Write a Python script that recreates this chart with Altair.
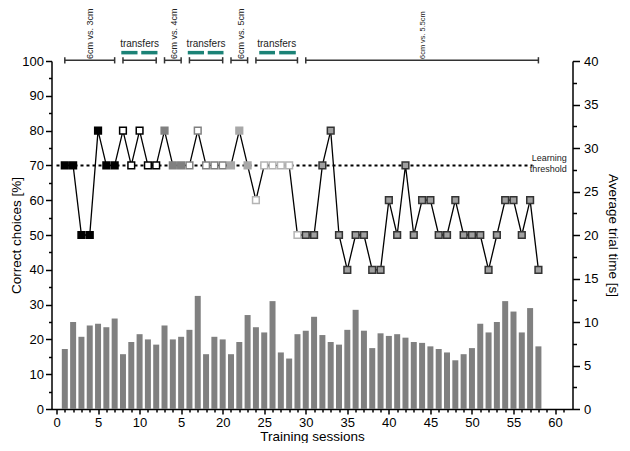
import altair as alt
import pandas as pd

# ---------------- data ----------------
sessions = list(range(1, 59))
correct = [70, 70, 50, 50, 80, 70, 70,
           80, 70, 80, 70, 70,
           80, 70, 70,
           70, 80, 70, 70, 70,
           70, 80, 70,
           60, 70, 70, 70, 70, 50,
           50, 50, 70, 80, 50, 40, 50, 50, 40, 40,
           60, 50, 70, 50, 60, 60, 50, 50, 60, 50,
           50, 50, 40, 50, 60, 60, 50, 60, 40]
trial_time = [6.9, 10.0, 8.3, 9.6, 9.8, 9.4, 10.4, 6.3, 7.7, 8.6,
              8.0, 7.4, 9.6, 8.0, 8.3, 9.1, 13.0, 6.3, 8.3, 8.0,
              6.3, 7.7, 10.8, 9.4, 8.8, 12.4, 6.5, 5.8, 8.6, 9.0,
              10.6, 8.5, 7.7, 7.4, 9.1, 11.4, 9.0, 7.0, 8.7, 8.4,
              8.6, 8.2, 7.7, 7.6, 7.2, 6.9, 6.5, 5.6, 6.3, 7.0,
              9.8, 8.8, 10.0, 12.4, 11.2, 8.8, 11.6, 7.2]
phase = (["A"] * 7 + ["B"] * 5 + ["C"] * 3 + ["D"] * 5 + ["E"] * 3
         + ["F"] * 6 + ["G"] * 29)
phase_names = ["A", "B", "C", "D", "E", "F", "G"]
phase_fill = ["#000000", "#ffffff", "#808080", "#ffffff", "#a8a8a8", "#ffffff", "#a0a0a0"]
phase_stroke = ["#000000", "#000000", "#808080", "#808080", "#a8a8a8", "#b4b4b4", "#333333"]

threshold = 70

bracket_start = [1, 8, 13, 16, 21, 24, 30]
bracket_end = [7, 12, 15, 20, 23, 29, 58]
cond_labels = ["6cm vs. 3cm", "6cm vs. 4cm", "6cm vs. 5cm", "6cm vs. 5.5cm"]
cond_x = [4.0, 14.2, 22.2, 44.1]
cond_font = [9, 9, 9, 7.4]
transfer_x = [10.0, 18.0, 26.5]
teal_start = [7.8, 10.2, 15.8, 18.2, 24.4, 26.8]
teal_end = [9.75, 12.15, 17.75, 20.1, 26.3, 28.8]

# ---------------- tables ----------------
df = pd.DataFrame({"session": sessions, "correct": correct,
                   "time": trial_time, "phase": phase})
thr_df = pd.DataFrame({"x": [0], "x2": [57.3], "y": [threshold]})
thr_txt = pd.DataFrame({"x": [61.4, 61.4], "y": [72.2, 69.0],
                        "t": ["Learning", "threshold"]})
br = pd.DataFrame({"s": bracket_start, "e": bracket_end})
br["y"] = 100.2
ends = pd.DataFrame({"x": bracket_start + bracket_end})
ends["y1"] = 99.3
ends["y2"] = 101.1
cond = pd.DataFrame({"x": cond_x, "t": cond_labels, "fs": cond_font})
cond["y"] = 100.6
trans = pd.DataFrame({"x": transfer_x, "t": ["transfers"] * 3})
trans["y"] = 104.8
teal = pd.DataFrame({"s": teal_start, "e": teal_end})
teal["y"] = 102.4

FONT = "Liberation Sans"
xscale = alt.Scale(domain=[0, 61.5], nice=False, zero=False)
yl = alt.Scale(domain=[0, 100], nice=False, zero=False)
yr = alt.Scale(domain=[0, 40], nice=False, zero=False)

x_axis = alt.Axis(
    values=list(range(0, 62)),
    labelExpr="datum.value % 5 === 0 ? (datum.value === 15 ? '5' : datum.label) : ''",
    tickSize={"condition": {"test": "datum.value % 5 === 0", "value": 5}, "value": 3},
    labelFlush=False, labelPadding=2, title="Training sessions", titlePadding=0,
)
left_axis = alt.Axis(
    orient="left", values=list(range(0, 101, 5)),
    labelExpr="datum.value % 10 === 0 ? datum.label : ''",
    tickSize={"condition": {"test": "datum.value % 10 === 0", "value": 6}, "value": 3},
    labelPadding=2, title="Correct choices [%]", titleX=-35, titleBaseline="middle",
)
right_axis = alt.Axis(
    orient="right", values=[i * 2.5 for i in range(17)],
    labelExpr="datum.value % 5 === 0 ? datum.label : ''",
    tickSize={"condition": {"test": "datum.value % 5 === 0", "value": 7}, "value": 4},
    labelPadding=4, title="Average trial time [s]", titlePadding=8,
)


def X(field):
    return alt.X(field, scale=xscale, axis=x_axis)


def YL(field):
    return alt.Y(field, scale=yl, axis=left_axis)


bars = alt.Chart(df).mark_bar(size=6, color="#808080").encode(
    x=X("session:Q"),
    y=alt.Y("time:Q", scale=yr, axis=right_axis),
)

thr = alt.Chart(thr_df).mark_rule(color="black", strokeWidth=2, strokeDash=[3, 3]).encode(
    x=X("x:Q"), x2="x2:Q", y=YL("y:Q"),
)
thr_label = alt.Chart(thr_txt).mark_text(align="right", baseline="middle", fontSize=9,
                                         font=FONT, color="#222222").encode(
    x=X("x:Q"), y=YL("y:Q"), text="t:N",
)
line = alt.Chart(df).mark_line(color="black", strokeWidth=1.3).encode(
    x=X("session:Q"), y=YL("correct:Q"),
)
pts = alt.Chart(df).mark_square(size=45, strokeWidth=1.5, opacity=1).encode(
    x=X("session:Q"), y=YL("correct:Q"),
    fill=alt.Fill("phase:N", scale=alt.Scale(domain=phase_names, range=phase_fill), legend=None),
    stroke=alt.Stroke("phase:N", scale=alt.Scale(domain=phase_names, range=phase_stroke), legend=None),
)
brackets = alt.Chart(br).mark_rule(color="#333333", strokeWidth=1.5).encode(
    x=X("s:Q"), x2="e:Q", y=YL("y:Q"),
)
bracket_ends = alt.Chart(ends).mark_rule(color="#333333", strokeWidth=1.5).encode(
    x=X("x:Q"), y=YL("y1:Q"), y2="y2:Q",
)
cond_txt = alt.Chart(cond).mark_text(angle=270, align="left", baseline="middle",
                                     font=FONT, color="#222222").encode(
    x=X("x:Q"), y=YL("y:Q"), text="t:N",
    size=alt.Size("fs:Q", scale=None, legend=None),
)
trans_txt = alt.Chart(trans).mark_text(align="center", baseline="middle",
                                       fontSize=10, font=FONT, color="#222222").encode(
    x=X("x:Q"), y=YL("y:Q"), text="t:N",
)
teal_bars = alt.Chart(teal).mark_rule(color="#1b8276", strokeWidth=3.5).encode(
    x=X("s:Q"), x2="e:Q", y=YL("y:Q"),
)

left_group = alt.layer(thr, thr_label, line, pts, brackets, bracket_ends,
                       cond_txt, trans_txt, teal_bars)

chart = alt.layer(bars, left_group).resolve_scale(y="independent").properties(
    width=521, height=348,
    autosize=alt.AutoSizeParams(type="none"),
    padding={"left": 43.5, "top": 53, "right": 49, "bottom": 34},
).configure_view(stroke=None).configure_axis(
    grid=False, domainColor="black", domainWidth=1.5, tickColor="black", tickWidth=1.5,
    labelFont=FONT, labelFontSize=13, labelColor="black",
    titleFont=FONT, titleFontSize=13.5, titleFontWeight="normal", titleColor="black",
)

chart.save("out.html", embed_options={"renderer": "svg", "actions": False})
